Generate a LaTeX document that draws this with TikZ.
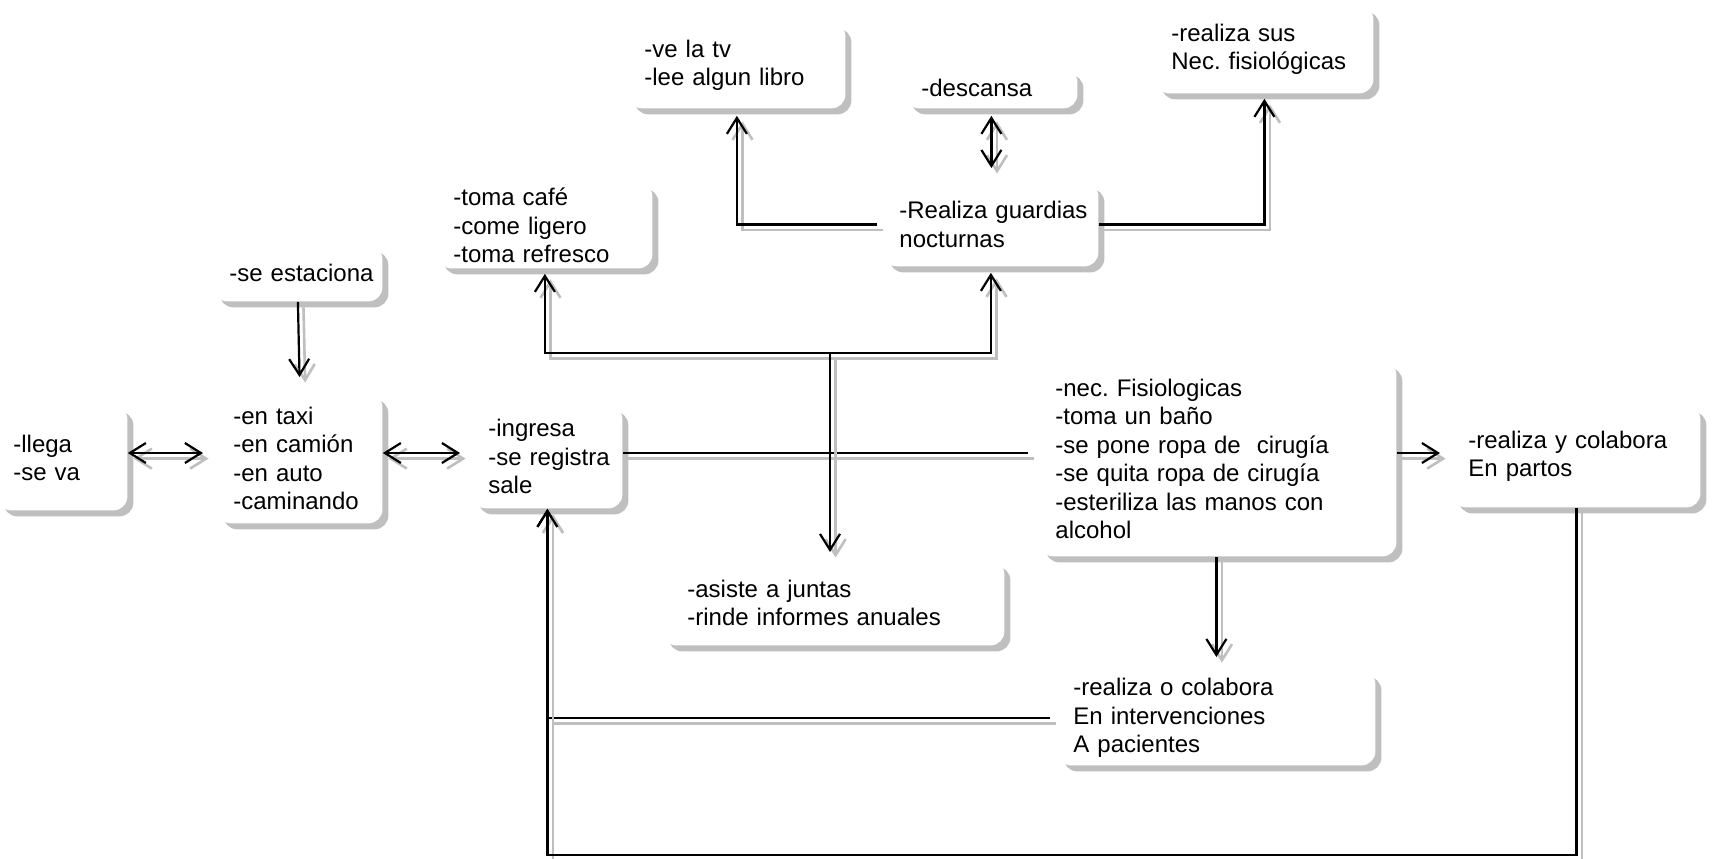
\documentclass[tikz,border=0pt]{standalone}
\usepackage{fontspec}
\setmainfont{Liberation Sans}
\usepackage{pgf, tikz}
\usetikzlibrary{arrows.meta, shadows}
\frenchspacing
\tikzstyle{caja}=[rounded corners=7pt, fill=white, anchor=north west, align=left, inner xsep=8pt, inner ysep=0pt, font=\fontsize{12}{14.25}\selectfont, execute at begin node={\hyphenpenalty=10000\exhyphenpenalty=10000}, general shadow={fill=gray!50, shadow xshift=3pt, shadow yshift=-3pt}]
\tikzstyle{linea}=[line width=1.1pt, preaction={draw=gray!50, line width=1.3pt, transform canvas={xshift=2.8pt, yshift=-2.8pt}}]
\tikzset{>={Straight Barb[length=8pt, width=10pt]}}

\begin{document}
\begin{tikzpicture}[x=0.5pt, y=-0.5pt]
 \useasboundingbox (0,0) rectangle (1715,858);
 \coordinate (fila) at (0,453);
 \coordinate (cruce) at (830,353);
 \coordinate (fondo) at (0,855);

 \node[caja, text width=49pt, minimum height=52.5pt] (llega) at (-3,405) {-llega\\-se va};
 \node[caja, text width=66.5pt, minimum height=65pt] (taxi) at (217,393) {-en taxi\\-en camión\\-en auto\\-caminando};
 \node[caja, text width=68.5pt, minimum height=28pt] (estaciona) at (213,245) {\mbox{-se estaciona}};
 \node[caja, text width=59pt, minimum height=51.5pt] (ingresa) at (472,405) {-ingresa\\\mbox{-se registra}\\sale};
 \node[caja, text width=91.5pt, minimum height=43pt] (cafe) at (437,182) {-toma café\\-come ligero\\-toma refresco};
 \node[caja, text width=92.5pt, minimum height=43pt] (tele) at (628,22) {-ve la tv\\-lee algun libro};
 \node[caja, text width=70pt, minimum height=20pt] (descansa) at (905,68) {-descansa};
 \node[caja, text width=93pt, minimum height=44pt] (sus) at (1155,5) {-realiza sus\\Nec. fisiológicas};
 \node[caja, text width=91.5pt, minimum height=42pt] (guardias) at (883,182) {\mbox{-Realiza guardias}\\nocturnas};
 \node[caja, text width=162.5pt, minimum height=97.5pt] (necesidades) at (1039,361) {-nec. Fisiologicas\\-toma un baño\\-se pone ropa de\ \ cirugía\\-se quita ropa de cirugía\\-esteriliza las manos con\\alcohol};
 \node[caja, text width=108pt, minimum height=51pt] (partos) at (1452,405) {-realiza y colabora\\En partos};
 \node[caja, inner xsep=12.5pt, text width=146pt, minimum height=42.5pt] (juntas) at (662,560) {-asiste a juntas\\-rinde informes anuales};
 \node[caja, text width=143pt, minimum height=47.5pt] (pacientes) at (1057,670) {-realiza o colabora\\En intervenciones\\A pacientes};

 \draw[linea, <->, shorten >=7pt] (llega.east |- fila) -- (taxi.west |- fila);
 \draw[linea, <->, shorten >=6pt] (taxi.east |- fila) -- (ingresa.west |- fila);
 \draw[linea, ->, shorten >=8pt] (estaciona.south) -- (taxi.north);
 \draw[linea, shorten >=5.5pt] (ingresa.east |- fila) -- (necesidades.west |- fila);
 \draw[linea, ->, shorten >=2.5pt] (cruce) -| (cafe.south);
 \draw[linea, ->, shorten >=3pt] (cruce) -| (guardias.south);
 \draw[linea, ->, shorten >=4pt] (cruce) -- (cruce |- juntas.north);
 \draw[linea, ->, shorten <=3pt, shorten >=3.5pt] (guardias.west) -| (tele.south);
 \draw[linea, ->, shorten >=2.5pt] (guardias.east) -| (sus.south);
 \draw[linea, <->, shorten <=3.5pt, shorten >=7pt] (descansa.south) -- (descansa.south |- guardias.north);
 \draw[linea, ->, shorten >=6pt] (necesidades.east |- fila) -- (partos.west |- fila);
 \draw[linea, ->, shorten >=6.5pt] (pacientes.north |- necesidades.south) -- (pacientes.north);
 \draw[linea, ->, shorten <=3.5pt] (pacientes.west) -| (ingresa.south);
 \draw[linea, ->] (partos.south) -- (partos.south |- fondo) -| (ingresa.south);
\end{tikzpicture}
\end{document}
